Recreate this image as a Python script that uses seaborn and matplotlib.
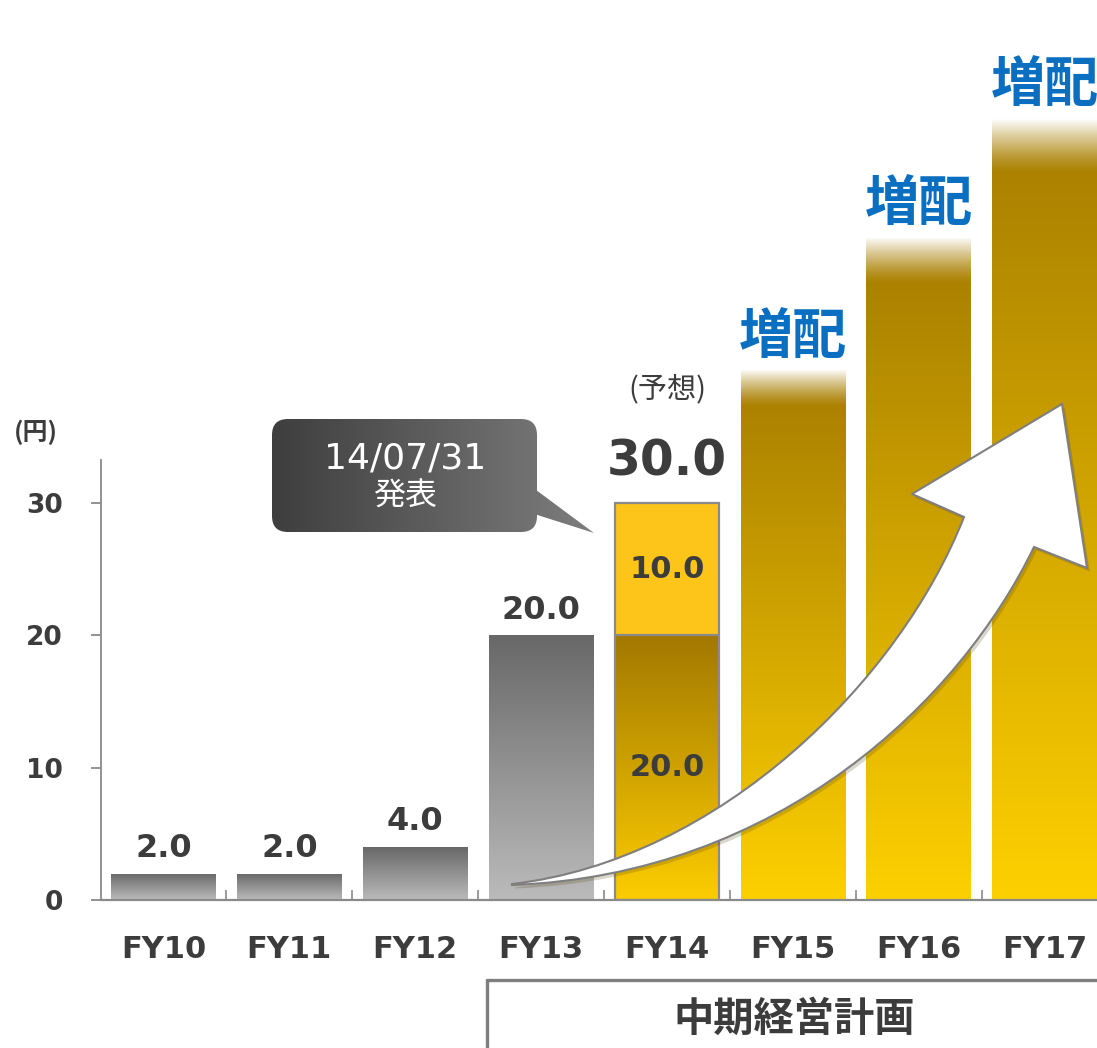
import numpy as np
import matplotlib
matplotlib.use('Agg')
import matplotlib.pyplot as plt
import seaborn as sns
from matplotlib.colors import to_rgb
from matplotlib.patches import Rectangle, FancyBboxPatch, Polygon, PathPatch
from matplotlib.path import Path
from matplotlib.transforms import Affine2D
from matplotlib.lines import Line2D
import matplotlib.patheffects as pe

# données
years = ['FY10', 'FY11', 'FY12', 'FY13', 'FY14', 'FY15', 'FY16', 'FY17']
base_values = [2.0, 2.0, 4.0, 20.0, 20.0, 40.0, 50.0, 59.0]
extra_values = [0.0, 0.0, 0.0, 0.0, 10.0, 0.0, 0.0, 0.0]
bar_kind = ['actual', 'actual', 'actual', 'actual', 'forecast', 'plan', 'plan', 'plan']
value_labels = ['2.0', '2.0', '4.0', '20.0', '30.0', '', '', '']
y_ticks = [0, 10, 20, 30]
plan_label = '増配'
forecast_note = '(予想)'
callout_lines = ['14/07/31', '発表']
period_label = '中期経営計画'
unit_label = '(円)'

totals = [b + e for b, e in zip(base_values, extra_values)]

W, H = 1097, 1048
sns.set_style('white')
plt.rcParams['font.family'] = ['DejaVu Sans', 'Noto Sans CJK JP']
CJK = ['Noto Sans CJK JP', 'DejaVu Sans']
DARK = '#3c3c3c'
GRID = '#8a8a8a'

fig = plt.figure(figsize=(W / 100, H / 100), dpi=100)
ax = fig.add_axes([101 / W, 148 / H, 996 / W, 900 / H])
# coordonnées en pixels (origine en haut à gauche) pour les décorations
T = Affine2D().scale(1, -1).translate(0, H)

sns.barplot(x=years, y=totals, ax=ax, width=0.83, color='#cccccc',
            saturation=1, errorbar=None, linewidth=0)
ax.set_xlim(-0.4966, 7.417)
ax.set_ylim(0, 900 / 13.24)
ax.set_autoscale_on(False)
ax.set_xlabel('')
ax.set_ylabel('')


def vgrad(top, bottom, n=256):
    t = np.linspace(0, 1, n)[:, None, None]
    a = np.array(to_rgb(bottom))
    b = np.array(to_rgb(top))
    return a + (b - a) * t


def hgrad(left, right, n=256):
    t = np.linspace(0, 1, n)[None, :, None]
    a = np.array(to_rgb(left))
    b = np.array(to_rgb(right))
    return a + (b - a) * t


bars = sorted(ax.patches, key=lambda p: p.get_x())[:len(years)]
for i, p in enumerate(bars):
    x, w, h = p.get_x(), p.get_width(), p.get_height()
    kind = bar_kind[i]
    if kind == 'actual':
        im = ax.imshow(vgrad('#686868', '#bbbbbb'), extent=[x, x + w, 0, h],
                       origin='lower', aspect='auto', zorder=1.5, interpolation='bilinear')
        im.set_clip_path(p)
    elif kind == 'forecast':
        p.set_facecolor('#fdc41a')
        im = ax.imshow(vgrad('#a27800', '#fccc00'), extent=[x, x + w, 0, base_values[i]],
                       origin='lower', aspect='auto', zorder=1.5, interpolation='bilinear')
        im.set_clip_path(p)
        ax.add_patch(Rectangle((x, 0), w, h, fill=False, edgecolor=GRID, lw=1.6, zorder=2))
        ax.plot([x, x + w], [base_values[i]] * 2, color=GRID, lw=1.6, zorder=2)
    else:
        im = ax.imshow(vgrad('#a67c00', '#fdd000'), extent=[x, x + w, 0, h],
                       origin='lower', aspect='auto', zorder=1.5, interpolation='bilinear')
        im.set_clip_path(p)
        fade = 0.07 * h
        rgba = np.ones((128, 1, 4))
        rgba[:, 0, 3] = np.linspace(0, 1, 128) ** 1.3
        fim = ax.imshow(rgba, extent=[x, x + w, h - fade, h], origin='lower',
                        aspect='auto', zorder=1.6, interpolation='bilinear')
        fim.set_clip_path(p)

# étiquettes de valeurs
for i, p in enumerate(bars):
    cx = p.get_x() + p.get_width() / 2
    h = p.get_height()
    if bar_kind[i] == 'actual':
        ax.annotate(value_labels[i], (cx, h), xytext=(0, 12), textcoords='offset points',
                    ha='center', va='baseline', fontsize=23, fontweight='bold', color=DARK)
    elif bar_kind[i] == 'forecast':
        ax.annotate(value_labels[i], (cx, h), xytext=(0, 20), textcoords='offset points',
                    ha='center', va='baseline', fontsize=35, fontweight='bold', color=DARK)
        ax.annotate(forecast_note, (cx, h), xytext=(0, 82), textcoords='offset points',
                    ha='center', va='center', fontsize=21, color=DARK, family=CJK)
        ax.text(cx, base_values[i] / 2, f'{base_values[i]:.1f}', ha='center', va='center',
                fontsize=22, fontweight='bold', color=DARK, zorder=3)
        ax.text(cx, base_values[i] + extra_values[i] / 2, f'{extra_values[i]:.1f}',
                ha='center', va='center', fontsize=22, fontweight='bold', color=DARK, zorder=3)
    else:
        ax.annotate(plan_label, (cx, h), xytext=(0, 4), textcoords='offset points',
                    ha='center', va='bottom', fontsize=39, fontweight='bold',
                    color='#0a6fc0', family=CJK)

# axes
sns.despine(ax=ax, top=True, right=True)
ax.spines['left'].set_bounds(0, 33.2)
ax.spines['left'].set_color(GRID)
ax.spines['left'].set_linewidth(1.3)
ax.spines['bottom'].set_color(GRID)
ax.spines['bottom'].set_linewidth(1.6)
ax.set_yticks(y_ticks)
ax.set_yticklabels([str(v) for v in y_ticks], fontsize=19, fontweight='bold', color=DARK)
ax.tick_params(axis='y', length=7.5, width=1.3, color=GRID, pad=20, left=True)
ax.set_xticks(range(len(years)))
ax.set_xticklabels(years, fontsize=22, fontweight='bold', color=DARK)
ax.tick_params(axis='x', which='major', length=0, pad=25)
ax.set_xticks([i + 0.5 for i in range(len(years) - 1)], minor=True)
ax.tick_params(axis='x', which='minor', direction='in', length=7.5, width=1.2,
               color=GRID, bottom=True)

ax.text(36, 432, unit_label, transform=T, ha='center', va='center', fontsize=18,
        fontweight='bold', color=DARK, family=CJK, clip_on=False)

# bulle
box = FancyBboxPatch((272, 419), 265, 113, boxstyle='round,pad=0,rounding_size=16',
                     transform=T, facecolor='none', edgecolor='none')
tail = Polygon([(528, 484), (594, 533), (528, 512)], closed=True, transform=T,
               facecolor='none', edgecolor='none')
ax.add_patch(box)
ax.add_patch(tail)
for clip in (box, tail):
    gim = ax.imshow(hgrad('#3e3e3e', '#7e7e7e'), extent=[272, 594, 533, 419],
                    transform=T, aspect='auto', zorder=4, interpolation='bilinear')
    gim.set_clip_path(clip)
ax.text(405, 459, callout_lines[0], transform=T, ha='center', va='center',
        fontsize=26, color='white', zorder=5)
ax.text(405, 497, callout_lines[1], transform=T, ha='center', va='center',
        fontsize=23, color='white', family=CJK, zorder=5)

# flèche
verts = [(512, 884), (720, 860), (900, 680), (964, 517),
         (912, 494), (1062, 404), (1087, 568), (1034, 547),
         (960, 700), (780, 875), (512, 885), (512, 884)]
codes = [Path.MOVETO, Path.CURVE4, Path.CURVE4, Path.CURVE4,
         Path.LINETO, Path.LINETO, Path.LINETO, Path.LINETO,
         Path.CURVE4, Path.CURVE4, Path.CURVE4, Path.CLOSEPOLY]
arrow = PathPatch(Path(verts, codes), transform=T, facecolor='white',
                  edgecolor='#7f7f7f', lw=1.5, zorder=4, joinstyle='miter')
arrow.set_path_effects([pe.SimplePatchShadow(offset=(2, -2.5), shadow_rgbFace='#4a3800', alpha=0.2),
                        pe.Normal()])
ax.add_patch(arrow)

# accolade "中期経営計画"
fig.add_artist(Line2D([487, W], [980, 980], transform=T, color='#7f7f7f', lw=2.4))
fig.add_artist(Line2D([487, 487], [980, H], transform=T, color='#7f7f7f', lw=2.4))
fig.text(794, 1019, period_label, transform=T, ha='center', va='center', fontsize=29,
         fontweight='bold', color=DARK, family=CJK)

fig.savefig('out.png', dpi=100)
